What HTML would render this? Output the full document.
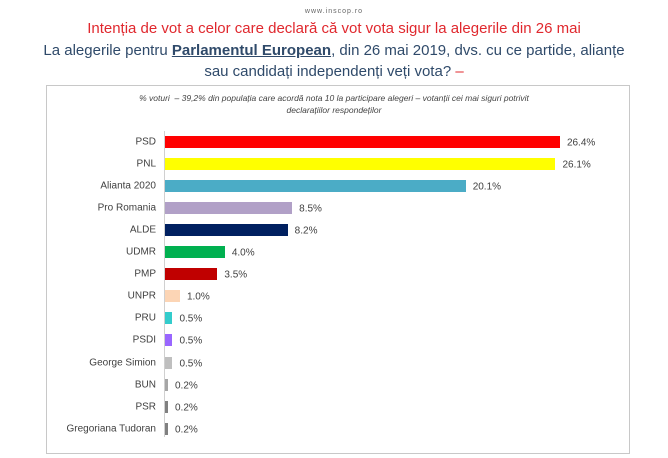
<!DOCTYPE html>
<html><head><meta charset="utf-8"><style>
body{margin:0;width:668px;height:458px;background:#fff;font-family:"Liberation Sans",sans-serif;position:relative;overflow:hidden}
.t{position:absolute;left:0;width:668px;text-align:center;white-space:nowrap}
.box{position:absolute;left:46px;top:85px;width:584px;height:369px;border:1px solid #c8c8c8;box-sizing:border-box}
.lab{position:absolute;right:512px;font-size:10px;color:#404040;white-space:nowrap;transform:translateY(-50%)}
.bar{position:absolute;left:165px;height:12px;transform:translateY(-50%)}
.val{position:absolute;font-size:10px;color:#404040;transform:translateY(-50%)}
</style></head><body>
<div class="t" style="top:8px;font-size:7px;color:#666;letter-spacing:1px">www.inscop.ro</div>
<div class="t" style="top:20px;font-size:15px;color:#e0282e">Intenția de vot a celor care declară că vot vota sigur la alegerile din 26 mai</div>
<div class="t" style="top:42px;font-size:15px;color:#2f4a6a">La alegerile pentru <b style="text-decoration:underline">Parlamentul European</b>, din 26 mai 2019, dvs. cu ce partide, alianțe</div>
<div class="t" style="top:63px;font-size:15px;color:#2f4a6a">sau candidați independenți veți vota? <span style="color:#e0282e">–</span></div>
<div class="box"></div>
<div class="t" style="top:92px;font-size:8.5px;font-style:italic;color:#444;line-height:12px">% voturi &nbsp;– 39,2% din populația care acordă nota 10 la participare alegeri – votanții cei mai siguri potrivit<br>declarațiilor respondeților</div>
<div style="position:absolute;left:164px;top:131px;width:1px;height:306px;background:#d0d0d0"></div>
<div id="c"></div>
<script>
var d=[["PSD",26.4,"#ff0000"],["PNL",26.1,"#ffff00"],["Alianta 2020",20.1,"#4bacc6"],["Pro Romania",8.5,"#b1a0c7"],["ALDE",8.2,"#002060"],["UDMR",4.0,"#00b050"],["PMP",3.5,"#c00000"],["UNPR",1.0,"#fcd5b5"],["PRU",0.5,"#33cccc"],["PSDI",0.5,"#9966ff"],["George Simion",0.5,"#bfbfbf"],["BUN",0.2,"#a6a6a6"],["PSR",0.2,"#808080"],["Gregoriana Tudoran",0.2,"#808080"]];
var h="";d.forEach(function(r,i){var y=142+i*22.05,w=Math.max(3,r[1]*14.96);
h+='<div class="lab" style="top:'+y+'px">'+r[0]+'</div><div class="bar" style="top:'+y+'px;width:'+w+'px;background:'+r[2]+'"></div><div class="val" style="top:'+(y+1)+'px;left:'+(165+w+7)+'px">'+r[1].toFixed(1)+'%</div>';});
document.getElementById("c").innerHTML=h;
</script>
</body></html>
